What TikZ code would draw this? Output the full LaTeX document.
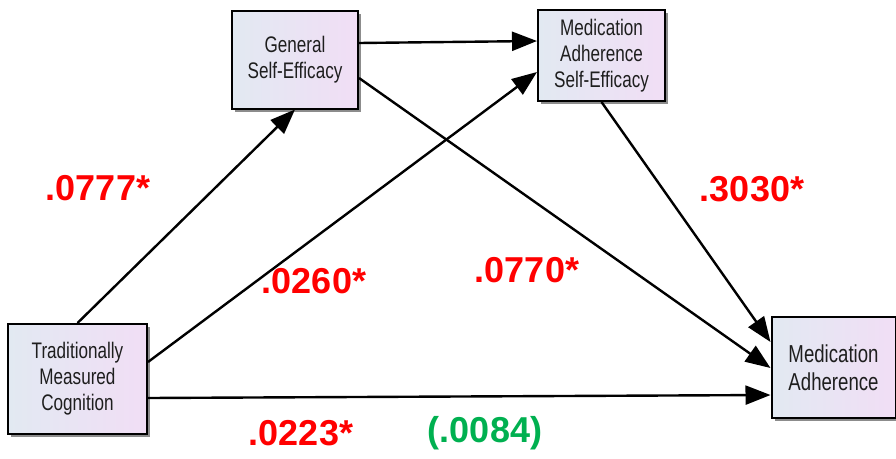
\documentclass[tikz,border=0pt]{standalone}
\usepackage{fontspec}
\setmainfont{Liberation Sans}
\newfontfamily\boxfont[FakeStretch=0.76]{Liberation Sans}
\usetikzlibrary{arrows.meta,shadows}

\definecolor{boxleft}{RGB}{226,233,242}
\definecolor{boxright}{RGB}{241,222,245}
\definecolor{coefred}{RGB}{255,0,0}
\definecolor{coefgreen}{RGB}{0,176,80}
\definecolor{boxtext}{RGB}{30,30,30}

\tikzset{
  varbox/.style={draw=black, line width=2pt, rectangle, align=center,
    left color=boxleft, right color=boxright,
    drop shadow={shadow xshift=3pt, shadow yshift=-3pt, fill=black!45, opacity=1},
    font=\boxfont\fontsize{22.5}{26}\selectfont, text=boxtext, inner sep=0pt},
  path/.style={draw=black, line width=2.4pt,
    -{Triangle[length=25pt,width=19pt]}},
  coef/.style={font=\bfseries\fontsize{36}{40}\selectfont, text=coefred, inner sep=0pt},
  coefns/.style={coef, text=coefgreen}
}

\begin{document}
\begin{tikzpicture}[x=1pt, y=-1pt]
  \useasboundingbox (0,0) rectangle (896,458);

  % variables
  \node[varbox, minimum width=126pt, minimum height=98pt] (gse)  at (295,59.5)  {General\\Self-Efficacy};
  \node[varbox, minimum width=127pt, minimum height=91pt] (mase) at (601.5,55.5) {Medication\\Adherence\\Self-Efficacy};
  \node[varbox, minimum width=139pt, minimum height=110pt] (tmc) at (77.5,379)  {Traditionally\\Measured\\Cognition};
  \node[varbox, minimum width=124pt, minimum height=101pt,
        font=\boxfont\fontsize{24.5}{28}\selectfont] (ma) at (833.5,367.5) {Medication\\Adherence};

  % paths
  \draw[path] (tmc.north) -- (gse.south);
  \draw[path] ([yshift=16.5pt]gse.east) -- ([yshift=14.5pt]mase.west);
  \draw[path] ([yshift=17pt]tmc.east) -- ([yshift=-16.5pt]mase.west);
  \draw[path] ([yshift=-18.5pt]gse.east) -- ([yshift=-0.5pt]ma.west);
  \draw[path] (mase.south) -- ([yshift=25.5pt]ma.west);
  \draw[path] ([yshift=-19pt]tmc.east) -- ([yshift=-27.5pt]ma.west);

  % coefficients
  \node[coef] (c1) at (98,188)  {.0777*};
  \node[coef] (c2) at (314,281) {.0260*};
  \node[coef] (c3) at (527,270) {.0770*};
  \node[coef] (c4) at (752,189) {.3030*};
  \node[coef] (c5) at (301,433) {.0223*};
  \node[coefns] (c6) at (485,433) {(.0084)};
\end{tikzpicture}
\end{document}
